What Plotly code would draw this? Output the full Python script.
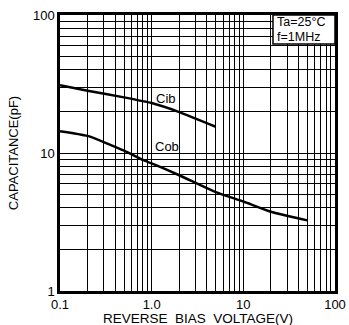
import math
import plotly.graph_objects as go

# Data
cib_v = [0.1, 0.2, 0.5, 1.0, 2.0, 5.0]
cib_c = [31.0, 28.3, 25.3, 23.0, 19.8, 15.5]
cob_v = [0.1, 0.2, 0.5, 0.8, 1.0, 2.0, 5.0, 10.0, 20.0, 50.0]
cob_c = [14.4, 13.3, 10.4, 8.9, 8.4, 6.9, 5.2, 4.45, 3.75, 3.25]

x_ticks = [0.1, 0.2, 0.3, 0.4, 0.5, 0.6, 0.7, 0.8, 0.9,
           1, 2, 3, 4, 5, 6, 7, 8, 9,
           10, 20, 30, 40, 50, 60, 70, 80, 90, 100]
x_labels = {0.1: "0.1", 1: "1.0", 10: "10", 100: "100"}
y_ticks = [1, 2, 3, 4, 5, 6, 7, 8, 9,
           10, 20, 30, 40, 50, 60, 70, 80, 90, 100]
y_labels = {1: "1", 10: "10", 100: "100"}

FONT = "Liberation Sans, Arial, sans-serif"

fig = go.Figure()
fig.add_trace(go.Scatter(x=cib_v, y=cib_c, mode="lines",
                         line=dict(color="black", width=2.5, shape="spline", smoothing=0.5),
                         showlegend=False, hoverinfo="skip"))
fig.add_trace(go.Scatter(x=cob_v, y=cob_c, mode="lines",
                         line=dict(color="black", width=2.5, shape="spline", smoothing=0.5),
                         showlegend=False, hoverinfo="skip"))

fig.add_annotation(x=math.log10(1.45), y=math.log10(25.0), xref="x", yref="y", text="Cib",
                   showarrow=False, font=dict(family=FONT, size=13, color="black"))
fig.add_annotation(x=math.log10(1.47), y=math.log10(11.2), xref="x", yref="y", text="Cob",
                   showarrow=False, font=dict(family=FONT, size=13, color="black"))

# condition box (top-right corner)
fig.add_shape(type="rect", xref="paper", yref="paper", x0=0.7745, x1=1.0, y0=0.8949, y1=1.0,
              fillcolor="white", line=dict(color="black", width=1.5), layer="above")
fig.add_annotation(x=0.782, y=0.9764, xref="paper", yref="paper", xanchor="left", yanchor="middle",
                   text="Ta=25°C", showarrow=False,
                   font=dict(family=FONT, size=12.5, color="black"))
fig.add_annotation(x=0.782, y=0.9203, xref="paper", yref="paper", xanchor="left", yanchor="middle",
                   text="f=1MHz", showarrow=False,
                   font=dict(family=FONT, size=12.5, color="black"))

# x-axis title
fig.add_annotation(x=0.5, y=0, xref="paper", yref="paper", xanchor="center", yanchor="middle",
                   yshift=-27, text="REVERSE  BIAS  VOLTAGE(V)", showarrow=False,
                   font=dict(family=FONT, size=13.5, color="black"))

fig.update_xaxes(type="log", range=[-1, 2], automargin=False,
                 tickvals=x_ticks, ticktext=[x_labels.get(v, "") for v in x_ticks],
                 showgrid=True, gridcolor="black", gridwidth=1,
                 showline=True, linecolor="black", linewidth=2.5, mirror=True,
                 ticks="", zeroline=False,
                 tickfont=dict(family=FONT, size=13, color="black"))
fig.update_yaxes(type="log", range=[0, 2], automargin=False,
                 tickvals=y_ticks, ticktext=[y_labels.get(v, "") for v in y_ticks],
                 showgrid=True, gridcolor="black", gridwidth=1,
                 showline=True, linecolor="black", linewidth=2.5, mirror=True,
                 ticks="", zeroline=False,
                 tickfont=dict(family=FONT, size=13, color="black"),
                 title=dict(text="CAPACITANCE(pF)", standoff=12,
                            font=dict(family=FONT, size=13, color="black")))

fig.update_layout(width=349, height=325,
                  margin=dict(l=60, r=14, t=15, b=34),
                  plot_bgcolor="white", paper_bgcolor="white")

fig.write_html("out.html")
